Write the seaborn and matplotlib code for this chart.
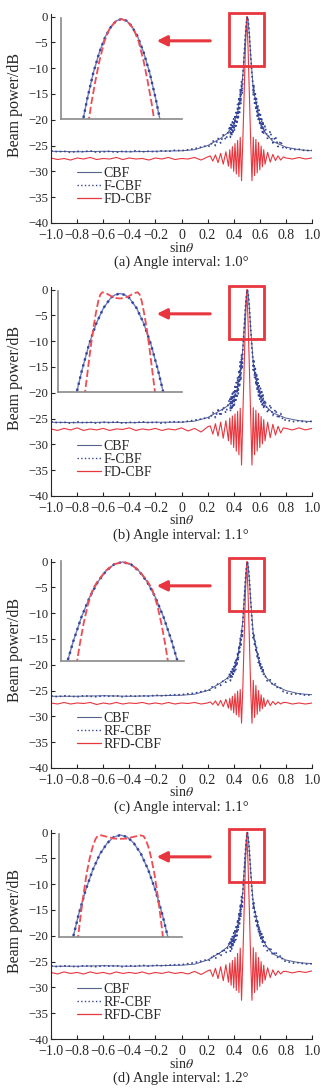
import matplotlib
import matplotlib.pyplot as plt
import matplotlib.patches as mpatches
from matplotlib.lines import Line2D
import seaborn as sns

# ---- sample positions (sin theta) shared by the main curves ----
x_far_left = [-1.0, -0.95, -0.9, -0.85, -0.8, -0.75, -0.7, -0.65, -0.6, -0.55, -0.5, -0.45, -0.4,
              -0.35, -0.3, -0.25, -0.2, -0.15, -0.1, -0.05, 0.0, 0.05, 0.1, 0.15, 0.2]
x_mid_left = [0.22, 0.24, 0.26, 0.28, 0.3, 0.32, 0.34, 0.36]
x_peak = [0.37, 0.375, 0.38, 0.385, 0.39, 0.395, 0.4, 0.405, 0.41, 0.415,
          0.42, 0.425, 0.43, 0.435, 0.44, 0.445, 0.45, 0.455, 0.46, 0.465,
          0.47, 0.475, 0.48, 0.485, 0.49, 0.495, 0.5, 0.505, 0.51, 0.515,
          0.52, 0.525, 0.53, 0.535, 0.54, 0.545, 0.55, 0.555, 0.56, 0.565,
          0.57, 0.575, 0.58, 0.585, 0.59, 0.595, 0.6, 0.605, 0.61, 0.615,
          0.62, 0.625, 0.63]
x_peak_red = [0.37, 0.38, 0.39, 0.4, 0.41, 0.42, 0.43, 0.44, 0.45, 0.46, 0.47, 0.48, 0.49, 0.5,
              0.51, 0.52, 0.53, 0.54, 0.55, 0.56, 0.57, 0.58, 0.59, 0.6, 0.61, 0.62, 0.63]
x_mid_right = [0.64, 0.66, 0.68, 0.7, 0.72, 0.74, 0.76, 0.78]
x_far_right = [0.8, 0.85, 0.9, 0.95, 1.0]
x_blue = x_far_left + x_mid_left + x_peak + x_mid_right + x_far_right
x_red = x_far_left + x_mid_left + x_peak_red + x_mid_right + x_far_right

x_cbf = [-1.0, -0.8, -0.6, -0.4, -0.2, 0.0, 0.1, 0.2, 0.3, 0.35, 0.4, 0.43, 0.45, 0.47, 0.48,
         0.49, 0.5, 0.505, 0.51, 0.52, 0.53, 0.55, 0.57, 0.6, 0.65, 0.7, 0.8, 0.9, 1.0]

# ---- panel (a) ----
cbf_a = [-26.1, -26.2, -26.1, -26.2, -26.1, -26.0, -25.8, -25.0, -23.6, -22.6, -21.0, -18.5, -15.5, -11.5,
         -7.5, -3.5, -0.6, 0.0, -0.6, -3.5, -7.5, -14.0, -16.5, -20.5, -22.8, -24.2, -25.3, -25.8, -26.0]
fcbf_a = ([-26.0, -26.2, -26.1, -26.3, -26.1, -26.2, -26.0, -26.3, -26.2, -26.1, -26.3, -26.1, -26.2,
           -26.0, -26.2, -26.1, -26.2, -26.0, -26.1, -25.9, -26.0, -25.8, -25.6, -25.3, -25.0]
          + [-25.2, -24.0, -25.0, -23.6, -24.5, -22.9, -23.9, -22.2]
          + [-21.2, -23.4, -20.9, -23.1, -20.4, -22.7, -19.8, -22.2, -19.0, -21.6,
             -18.2, -20.8, -17.0, -19.9, -15.6, -18.6, -14.0, -17.0, -12.6, -15.0,
             -11.5, -9.5, -7.5, -5.5, -3.5, -1.8, -0.6, 0.0, -0.6, -1.8,
             -3.5, -5.5, -7.5, -9.5, -11.5, -12.6, -15.3, -13.2, -16.8, -14.6,
             -18.1, -15.9, -19.3, -17.1, -20.3, -18.1, -21.1, -19.0, -21.8, -19.7,
             -22.4, -20.3, -22.8]
          + [-21.2, -23.8, -22.2, -24.5, -23.2, -25.2, -24.1, -25.6]
          + [-25.4, -25.8, -25.7, -26.0, -25.9])
fdcbf_a = ([-27.4, -27.7, -27.5, -27.8, -27.4, -27.6, -27.3, -27.7, -27.5, -27.6, -27.3, -27.7, -27.4,
            -27.6, -27.5, -27.8, -27.4, -27.6, -27.3, -27.7, -27.5, -27.6, -27.3, -27.8, -27.2]
           + [-27.0, -28.0, -26.8, -28.3, -26.5, -28.6, -26.2, -29.0]
           + [-25.8, -29.4, -25.2, -30.0, -24.6, -30.5, -24.0, -31.0, -23.4, -31.8,
              -24.0, -15.0, -6.0, 0.0, -6.0, -15.0, -24.0,
              -31.8, -23.4, -30.8, -23.8, -30.3, -24.4, -29.7, -25.1, -29.1, -25.8]
           + [-28.6, -26.3, -28.2, -26.7, -27.9, -27.0, -27.8, -27.2]
           + [-27.4, -27.6, -27.3, -27.6, -27.4])

# ---- panel (b) ----
cbf_b = [-25.7, -25.8, -25.7, -25.8, -25.7, -25.7, -25.5, -24.8, -23.4, -22.6, -21.3, -19.0, -16.0, -11.5,
         -7.5, -3.5, -0.6, 0.0, -0.6, -3.5, -7.5, -14.3, -17.2, -20.6, -22.7, -23.9, -24.9, -25.4, -25.6]
fcbf_b = ([-25.6, -25.8, -25.7, -25.9, -25.6, -25.8, -25.7, -25.9, -25.7, -25.8, -25.6, -25.9, -25.7,
           -25.8, -25.6, -25.8, -25.7, -25.9, -25.7, -25.6, -25.7, -25.5, -25.3, -25.1, -24.8]
          + [-25.0, -23.8, -24.8, -23.3, -24.5, -22.7, -23.9, -22.0]
          + [-21.0, -23.6, -20.6, -23.3, -20.1, -22.9, -19.5, -22.4, -18.8, -21.8,
             -18.0, -21.0, -16.9, -20.2, -15.6, -18.9, -14.0, -17.6, -12.5, -15.4,
             -11.5, -9.5, -7.5, -5.5, -3.5, -1.8, -0.6, 0.0, -0.6, -1.8,
             -3.5, -5.5, -7.5, -9.5, -11.5, -12.7, -15.6, -13.5, -17.2, -14.9,
             -18.5, -16.2, -19.6, -17.3, -20.6, -18.3, -21.4, -19.1, -22.1, -19.8,
             -22.7, -20.4, -23.1]
          + [-21.4, -23.9, -22.3, -24.4, -23.2, -25.0, -24.0, -25.4]
          + [-25.2, -25.6, -25.4, -25.7, -25.5])
fdcbf_b = ([-27.0, -27.3, -26.9, -27.2, -26.8, -27.3, -27.0, -27.2, -26.9, -27.3, -27.0, -27.1, -26.8,
            -27.3, -27.0, -27.2, -26.9, -27.3, -27.0, -27.2, -26.8, -27.4, -26.9, -27.6, -26.6]
           + [-26.4, -28.0, -26.0, -28.4, -25.7, -28.8, -25.4, -29.3]
           + [-24.9, -30.0, -24.5, -30.6, -24.1, -31.3, -23.6, -32.0, -23.0, -34.0,
              -24.5, -15.0, -6.0, 0.0, -6.0, -15.0, -24.5,
              -34.0, -22.9, -32.0, -23.4, -31.3, -24.0, -30.6, -24.6, -29.9, -25.2]
           + [-29.3, -25.7, -28.7, -26.1, -28.2, -26.5, -27.8, -26.8]
           + [-26.9, -27.2, -26.8, -27.2, -26.9])

# ---- panel (c) ----
cbf_c = [-26.1, -26.1, -26.0, -26.1, -26.0, -25.9, -25.7, -25.0, -23.5, -22.6, -21.0, -18.4, -15.6, -11.5,
         -7.5, -3.5, -0.6, 0.0, -0.6, -3.5, -7.5, -14.0, -16.6, -20.0, -22.5, -23.8, -25.0, -25.6, -25.8]
rfcbf_c = ([-26.0, -26.2, -26.0, -26.1, -26.2, -26.0, -26.1, -26.2, -26.0, -26.1, -26.0, -26.2, -26.0,
            -26.1, -26.0, -26.1, -25.9, -26.0, -25.9, -25.8, -25.8, -25.6, -25.5, -25.2, -24.9]
           + [-24.9, -24.1, -24.5, -23.6, -24.0, -23.0, -23.4, -22.3]
           + [-21.7, -23.1, -21.3, -22.7, -20.8, -22.2, -20.2, -21.7, -19.5, -21.0,
              -18.7, -20.2, -17.6, -19.2, -16.3, -17.9, -14.7, -16.5, -13.1, -14.8,
              -11.5, -9.5, -7.5, -5.5, -3.5, -1.8, -0.6, 0.0, -0.6, -1.8,
              -3.5, -5.5, -7.5, -9.5, -11.5, -13.0, -15.1, -14.0, -16.4, -15.3,
              -17.6, -16.5, -18.7, -17.6, -19.6, -18.6, -20.4, -19.4, -21.1, -20.1,
              -21.7, -20.7, -22.2]
           + [-22.1, -23.3, -22.9, -24.0, -23.7, -24.7, -24.5, -25.2]
           + [-25.4, -25.7, -25.6, -25.9, -25.8])
rfdcbf_c = ([-27.4, -27.6, -27.3, -27.6, -27.4, -27.5, -27.3, -27.7, -27.4, -27.6, -27.3, -27.6, -27.4,
             -27.5, -27.3, -27.6, -27.4, -27.6, -27.3, -27.6, -27.4, -27.5, -27.3, -27.6, -27.4]
            + [-27.2, -27.7, -27.0, -27.9, -26.9, -28.1, -26.7, -28.4]
            + [-26.5, -28.8, -26.1, -29.3, -25.6, -29.7, -25.1, -30.1, -24.8, -31.3,
               -24.5, -15.0, -6.0, 0.0, -6.0, -15.0, -24.5,
               -31.3, -23.0, -30.2, -24.0, -29.6, -25.0, -29.0, -25.8, -28.5, -26.4]
            + [-28.1, -26.8, -27.9, -27.1, -27.7, -27.2, -27.6, -27.3]
            + [-27.3, -27.6, -27.4, -27.6, -27.4])

# ---- panel (d) ----
cbf_d = [-25.9, -25.9, -25.8, -25.9, -25.8, -25.7, -25.5, -24.7, -23.2, -22.2, -20.6, -18.2, -15.3, -11.5,
         -7.5, -3.5, -0.6, 0.0, -0.6, -3.5, -7.5, -13.8, -16.2, -19.6, -22.0, -23.5, -24.7, -25.2, -25.4]
rfcbf_d = ([-25.8, -26.0, -25.8, -25.9, -26.0, -25.8, -25.9, -26.0, -25.8, -25.9, -25.8, -26.0, -25.8,
            -25.9, -25.7, -25.9, -25.7, -25.8, -25.7, -25.6, -25.6, -25.4, -25.2, -24.9, -24.6]
           + [-24.8, -23.7, -24.5, -23.1, -24.0, -22.5, -23.4, -21.8]
           + [-21.0, -23.0, -20.6, -22.6, -20.0, -22.1, -19.4, -21.5, -18.7, -20.8,
              -17.9, -20.0, -16.8, -19.0, -15.5, -17.7, -13.9, -16.4, -12.4, -14.7,
              -11.5, -9.5, -7.5, -5.5, -3.5, -1.8, -0.6, 0.0, -0.6, -1.8,
              -3.5, -5.5, -7.5, -9.5, -11.5, -12.6, -14.9, -13.6, -16.3, -15.0,
              -17.5, -16.2, -18.5, -17.2, -19.4, -18.1, -20.2, -18.9, -20.9, -19.6,
              -21.5, -20.2, -22.0]
           + [-21.2, -23.1, -22.2, -23.8, -23.0, -24.4, -23.8, -24.9]
           + [-24.9, -25.3, -25.2, -25.5, -25.4])
rfdcbf_d = ([-27.1, -27.4, -27.0, -27.3, -27.1, -27.4, -27.0, -27.3, -27.1, -27.4, -27.0, -27.3, -27.1,
             -27.3, -27.0, -27.4, -27.1, -27.3, -27.0, -27.3, -27.1, -27.4, -26.9, -27.5, -26.8]
            + [-26.6, -27.9, -26.3, -28.3, -26.0, -28.7, -25.6, -29.0]
            + [-25.3, -29.6, -24.8, -30.1, -24.2, -30.6, -23.4, -31.0, -22.4, -32.5,
               -24.5, -15.0, -6.0, 0.0, -6.0, -15.0, -24.5,
               -32.5, -22.3, -31.0, -23.2, -30.5, -24.2, -29.8, -25.0, -29.2, -25.7]
            + [-28.6, -26.2, -28.1, -26.6, -27.7, -26.8, -27.4, -26.9]
            + [-26.9, -27.2, -26.9, -27.1, -26.8])

# ---- inset main-lobe close-ups ----
in_x_blue_a = [0.4805, 0.483, 0.486, 0.489, 0.492, 0.495, 0.4975, 0.5, 0.5025, 0.505, 0.508, 0.511, 0.514, 0.517, 0.5195]
in_y_blue_a = [-21, -16, -10.8, -6.7, -3.5, -1.4, -0.35, 0, -0.35, -1.4, -3.5, -6.7, -10.8, -16, -21]
in_x_red_a = [0.4835, 0.485, 0.487, 0.489, 0.4915, 0.494, 0.497, 0.5, 0.503, 0.506, 0.5085, 0.511, 0.513, 0.515, 0.5165]
in_y_red_a = [-21, -17, -12.5, -8.5, -4.5, -2.0, -0.5, 0, -0.5, -2.0, -4.5, -8.5, -12.5, -17, -21]

in_x_blue_b = [0.4785, 0.4815, 0.485, 0.4885, 0.492, 0.4955, 0.4975, 0.5, 0.5025, 0.5045, 0.508, 0.5115, 0.515, 0.5185, 0.5215]
in_y_blue_b = [-21, -15.8, -10.5, -6.3, -3.2, -1.2, -0.6, -0.3, -0.6, -1.2, -3.2, -6.3, -10.5, -15.8, -21]
in_x_red_b = [0.4828, 0.484, 0.4855, 0.487, 0.4882, 0.4895, 0.4905, 0.4915, 0.4935, 0.496, 0.498, 0.5,
              0.502, 0.504, 0.5065, 0.5085, 0.5095, 0.5105, 0.5118, 0.513, 0.5145, 0.516, 0.5172]
in_y_red_b = [-21, -17, -12, -7.5, -4.5, -1.8, -0.5, -0.05, -0.3, -0.9, -1.2, -1.3,
              -1.2, -0.9, -0.3, -0.05, -0.5, -1.8, -4.5, -7.5, -12, -17, -21]

in_x_blue_c = [0.4725, 0.476, 0.48, 0.484, 0.488, 0.492, 0.496, 0.5, 0.504, 0.508, 0.512, 0.516, 0.52, 0.524, 0.5275]
in_y_blue_c = [-21, -16, -11.1, -7.1, -4.0, -1.8, -0.45, 0, -0.45, -1.8, -4.0, -7.1, -11.1, -16, -21]
in_x_red_c = [0.4775, 0.479, 0.481, 0.483, 0.4855, 0.488, 0.492, 0.496, 0.5, 0.504, 0.508, 0.512, 0.5145,
              0.517, 0.519, 0.521, 0.5225]
in_y_red_c = [-21, -17, -12.5, -8.8, -5.5, -3.8, -1.7, -0.45, 0, -0.45, -1.7, -3.8, -5.5, -8.8, -12.5, -17, -21]

in_x_blue_d = [0.4763, 0.4795, 0.483, 0.4865, 0.49, 0.4935, 0.4967, 0.5, 0.5033, 0.5065, 0.51, 0.5135, 0.517, 0.5205, 0.5237]
in_y_blue_d = [-21, -15.7, -10.8, -6.8, -3.7, -1.6, -0.4, 0, -0.4, -1.6, -3.7, -6.8, -10.8, -15.7, -21]
in_x_red_d = [0.479, 0.4805, 0.482, 0.4835, 0.485, 0.4865, 0.4878, 0.4888, 0.4905, 0.494, 0.497, 0.5,
              0.503, 0.506, 0.5095, 0.5112, 0.5122, 0.5135, 0.515, 0.5165, 0.518, 0.5195, 0.521]
in_y_red_d = [-21, -16, -11.5, -7.5, -4.5, -2.2, -0.8, -0.2, -0.05, -0.4, -0.7, -0.75,
              -0.7, -0.4, -0.05, -0.2, -0.8, -2.2, -4.5, -7.5, -11.5, -16, -21]

labels_f = ['CBF', 'F-CBF', 'FD-CBF']
labels_rf = ['CBF', 'RF-CBF', 'RFD-CBF']
captions = ['(a) Angle interval: 1.0°', '(b) Angle interval: 1.1°',
            '(c) Angle interval: 1.1°', '(d) Angle interval: 1.2°']
xticks = [-1.0, -0.8, -0.6, -0.4, -0.2, 0, 0.2, 0.4, 0.6, 0.8, 1.0]
xtick_labels = ['−1.0', '−0.8', '−0.6', '−0.4', '−0.2', '0', '0.2', '0.4', '0.6', '0.8', '1.0']
yticks = [0, -5, -10, -15, -20, -25, -30, -35, -40]

panels = [
    dict(cbf=cbf_a, blue=fcbf_a, red=fdcbf_a, labels=labels_f,
         ib=(in_x_blue_a, in_y_blue_a), ir=(in_x_red_a, in_y_red_a), bottom=223, inset=(61, 182, 18, 119)),
    dict(cbf=cbf_b, blue=fcbf_b, red=fdcbf_b, labels=labels_f,
         ib=(in_x_blue_b, in_y_blue_b), ir=(in_x_red_b, in_y_red_b), bottom=496, inset=(58, 182, 291, 392)),
    dict(cbf=cbf_c, blue=rfcbf_c, red=rfdcbf_c, labels=labels_rf,
         ib=(in_x_blue_c, in_y_blue_c), ir=(in_x_red_c, in_y_red_c), bottom=768, inset=(61, 184, 561, 661)),
    dict(cbf=cbf_d, blue=rfcbf_d, red=rfdcbf_d, labels=labels_rf,
         ib=(in_x_blue_d, in_y_blue_d), ir=(in_x_red_d, in_y_red_d), bottom=1039, inset=(59, 182, 834, 937)),
]

sns.set_style('ticks')
plt.rcParams['font.family'] = ['Liberation Serif', 'DejaVu Serif']
plt.rcParams['mathtext.fontset'] = 'stix'
plt.rcParams['font.size'] = 10
plt.rcParams['xtick.direction'] = 'in'
plt.rcParams['ytick.direction'] = 'in'

RED = '#e8363e'
BLUE = '#34449a'
CBF_C = '#56628c'
W, H = 332, 1091

fig = plt.figure(figsize=(W / 100, H / 100), dpi=100)

for i, p in enumerate(panels):
    b = p['bottom']
    ax = fig.add_axes([51 / W, 1 - b / H, 261 / W, 209 / H])
    sns.lineplot(x=x_cbf, y=p['cbf'], ax=ax, color=CBF_C, lw=0.7, sort=False, estimator=None, legend=False)
    sns.lineplot(x=x_red, y=p['red'], ax=ax, color=RED, lw=0.8, sort=False, estimator=None, legend=False)
    sns.lineplot(x=x_blue, y=p['blue'], ax=ax, color=BLUE, lw=1.2, linestyle=':', sort=False,
                 estimator=None, legend=False)
    ax.set_xlim(-1.0, 1.0)
    ax.set_ylim(-40, 0.5)
    ax.set_xticks(xticks)
    ax.set_xticklabels(xtick_labels)
    ax.set_yticks(yticks)
    ax.tick_params(length=3, width=0.8)
    ax.tick_params(axis='x', pad=4.2, labelsize=10)
    ax.tick_params(axis='y', pad=2.0, labelsize=9.2)
    for s in ['top', 'right']:
        ax.spines[s].set_visible(False)
    for s in ['left', 'bottom']:
        ax.spines[s].set_linewidth(0.8)

    # zoom box and arrow
    ax.add_patch(mpatches.Rectangle((0.365, -9.6), 0.268, 10.2, fill=False, ec=RED, lw=2, clip_on=False, zorder=5))
    ax.annotate('', xy=(-0.19, -4.7), xytext=(0.22, -4.7),
                arrowprops=dict(arrowstyle='-|>,head_length=0.6,head_width=0.3', color=RED, lw=2.2,
                                shrinkA=0, shrinkB=0))

    handles = [Line2D([], [], color=CBF_C, lw=0.8),
               Line2D([], [], color=BLUE, lw=1.0, linestyle=':'),
               Line2D([], [], color=RED, lw=0.9)]
    ax.legend(handles, p['labels'], loc='upper left', bbox_to_anchor=(0.1, 0.27), frameon=False,
              borderpad=0, borderaxespad=0, handlelength=1.7, handletextpad=0.2, labelspacing=0.0, fontsize=10)

    # texts
    fig.text(15 / W, 1 - (b - 118) / H, 'Beam power/dB', rotation=90, ha='center', va='center', fontsize=11.5)
    fig.text(182 / W, 1 - (b + 24.5) / H, r'sin$\theta$', ha='center', va='center', fontsize=10)
    fig.text(181 / W, 1 - (b + 39.5) / H, captions[i], ha='center', va='center', fontsize=10.5)

    # inset close-up of the main lobe
    l, r, t, bb = p['inset']
    ia = fig.add_axes([l / W, 1 - bb / H, (r - l) / W, (bb - t) / H])
    ia.patch.set_alpha(0)
    sns.lineplot(x=p['ib'][0], y=p['ib'][1], ax=ia, color='#7080bd', lw=1.0, sort=False, estimator=None, legend=False)
    sns.lineplot(x=p['ib'][0], y=p['ib'][1], ax=ia, color=BLUE, lw=1.7, linestyle=':', sort=False,
                 estimator=None, legend=False)
    sns.lineplot(x=p['ir'][0], y=p['ir'][1], ax=ia, color='#ef4c53', lw=1.3, linestyle=(0, (4, 1.6)),
                 sort=False, estimator=None, legend=False)
    ia.set_xlim(0.47, 0.53)
    ia.set_ylim(-20, 0.2)
    ia.set_xticks([])
    ia.set_yticks([])
    ia.set_xlabel('')
    ia.set_ylabel('')
    for s in ['top', 'right']:
        ia.spines[s].set_visible(False)
    for s in ['left', 'bottom']:
        ia.spines[s].set_color('#8a8a8a')
        ia.spines[s].set_linewidth(1.2)

fig.savefig('out.png', dpi=100)
